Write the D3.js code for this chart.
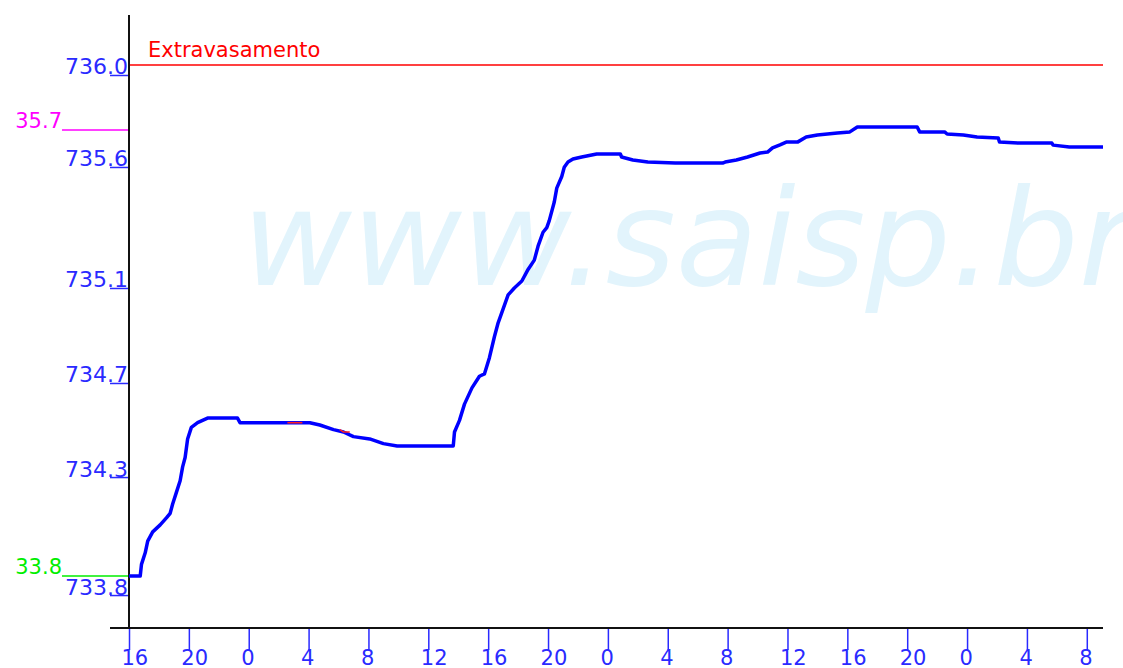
<!DOCTYPE html>
<html>
<head>
<meta charset="utf-8">
<script src="https://cdn.jsdelivr.net/npm/d3@7"></script>
<style>
  body { margin: 0; background: #fff; }
  text { font-family: "DejaVu Sans", sans-serif; }
</style>
</head>
<body>
<script>
// leituras do nível (m) - horário UTC
const horarios = [
  "2015-02-10 16:00", "2015-02-10 16:45", "2015-02-10 16:50", "2015-02-10 17:05",
  "2015-02-10 17:15", "2015-02-10 17:35", "2015-02-10 18:05", "2015-02-10 18:30",
  "2015-02-10 18:45", "2015-02-10 18:55", "2015-02-10 19:10", "2015-02-10 19:25",
  "2015-02-10 19:35", "2015-02-10 19:45", "2015-02-10 19:55", "2015-02-10 20:10",
  "2015-02-10 20:35", "2015-02-10 20:55", "2015-02-10 21:15", "2015-02-10 23:15",
  "2015-02-10 23:25", "2015-02-11 04:05", "2015-02-11 04:45", "2015-02-11 05:40",
  "2015-02-11 06:20", "2015-02-11 07:00", "2015-02-11 08:05", "2015-02-11 09:00",
  "2015-02-11 09:55", "2015-02-11 13:40", "2015-02-11 13:45", "2015-02-11 14:05",
  "2015-02-11 14:25", "2015-02-11 14:55", "2015-02-11 15:25", "2015-02-11 15:45",
  "2015-02-11 16:05", "2015-02-11 16:25", "2015-02-11 16:40", "2015-02-11 17:00",
  "2015-02-11 17:20", "2015-02-11 17:45", "2015-02-11 18:15", "2015-02-11 18:40",
  "2015-02-11 19:05", "2015-02-11 19:20", "2015-02-11 19:40", "2015-02-11 19:55",
  "2015-02-11 20:05", "2015-02-11 20:25", "2015-02-11 20:35", "2015-02-11 20:55",
  "2015-02-11 21:05", "2015-02-11 21:20", "2015-02-11 21:40", "2015-02-11 22:15",
  "2015-02-11 23:15", "2015-02-12 00:50", "2015-02-12 00:55", "2015-02-12 01:40",
  "2015-02-12 02:40", "2015-02-12 04:30", "2015-02-12 07:40", "2015-02-12 07:50",
  "2015-02-12 08:35", "2015-02-12 09:20", "2015-02-12 10:10", "2015-02-12 10:40",
  "2015-02-12 11:00", "2015-02-12 11:30", "2015-02-12 11:55", "2015-02-12 12:40",
  "2015-02-12 13:15", "2015-02-12 14:00", "2015-02-12 15:20", "2015-02-12 16:10",
  "2015-02-12 16:40", "2015-02-12 20:40", "2015-02-12 20:50", "2015-02-12 22:30",
  "2015-02-12 22:40", "2015-02-12 23:45", "2015-02-13 00:40", "2015-02-13 02:05",
  "2015-02-13 02:10", "2015-02-13 03:30", "2015-02-13 05:40", "2015-02-13 05:45",
  "2015-02-13 06:50", "2015-02-13 09:05"
];
const niveis = [
  733.80, 733.80, 733.85, 733.90,
  733.95, 733.99, 734.02, 734.05,
  734.07, 734.11, 734.16, 734.21,
  734.27, 734.31, 734.39, 734.44,
  734.46, 734.47, 734.48, 734.48,
  734.46, 734.46, 734.45, 734.43,
  734.42, 734.40, 734.39, 734.37,
  734.36, 734.36, 734.42, 734.47,
  734.54, 734.61, 734.66, 734.67,
  734.74, 734.83, 734.89, 734.95,
  735.01, 735.04, 735.07, 735.12,
  735.16, 735.22, 735.28, 735.30,
  735.33, 735.41, 735.47, 735.52,
  735.56, 735.582, 735.595, 735.604,
  735.617, 735.617, 735.604, 735.591,
  735.582, 735.578, 735.578, 735.582,
  735.591, 735.604, 735.621, 735.625,
  735.643, 735.656, 735.668, 735.668,
  735.690, 735.699, 735.707, 735.712,
  735.733, 735.733, 735.712, 735.712,
  735.703, 735.699, 735.690, 735.686,
  735.668, 735.664, 735.664, 735.655,
  735.647, 735.647
];

// trechos marcados em vermelho
const trechosVermelhos = [
  ["2015-02-11 02:35", "2015-02-11 03:35"],
  ["2015-02-11 06:05", "2015-02-11 06:45"]
];

// cotas de referência
const cotasRef = [736.0, 735.72, 733.8];
const cotasRotulos = ["Extravasamento", "35.7", "33.8"];
const cotasCores = ["#ff0000", "#ff00ff", "#00ee00"];

// marcas do eixo y
const yTickValores = [733.718, 734.226, 734.631, 735.040, 735.561, 735.957];
const yTickRotulos = ["733.8", "734.3", "734.7", "735.1", "735.6", "736.0"];

const inicio = "2015-02-10 16:00",
      fim = "2015-02-13 09:05";

const parse = d3.utcParse("%Y-%m-%d %H:%M");
const dados = horarios.map((h, i) => ({t: parse(h), v: niveis[i]}));

const width = 1123, height = 668;
const azulTexto = "#2a2aff";

const svg = d3.select("body").append("svg")
  .attr("width", width)
  .attr("height", height);

const x = d3.scaleUtc()
  .domain([parse(inicio), parse(fim)])
  .range([129, 1103]);

const y = d3.scaleLinear()
  .domain([733.8, 736.0])
  .range([576, 65]);

// marca d'agua
svg.append("text")
  .text("www.saisp.br")
  .attr("x", 242)
  .attr("y", 285)
  .attr("font-size", 134)
  .attr("font-style", "italic")
  .attr("textLength", 892)
  .attr("lengthAdjust", "spacingAndGlyphs")
  .attr("fill", "#e2f4fc");

// linha de extravasamento (dentro do gráfico)
svg.append("line")
  .attr("x1", 129).attr("x2", 1103)
  .attr("y1", y(cotasRef[0])).attr("y2", y(cotasRef[0]))
  .attr("stroke", cotasCores[0])
  .attr("stroke-width", 1.5);

svg.append("text")
  .text(cotasRotulos[0])
  .attr("x", 148)
  .attr("y", 57)
  .attr("font-size", 21)
  .attr("fill", cotasCores[0]);

// cotas de alerta (fora do gráfico, à esquerda)
[1, 2].forEach(i => {
  svg.append("line")
    .attr("x1", 62).attr("x2", 129)
    .attr("y1", y(cotasRef[i])).attr("y2", y(cotasRef[i]))
    .attr("stroke", cotasCores[i])
    .attr("stroke-width", 1.5);
  svg.append("text")
    .text(cotasRotulos[i])
    .attr("x", 62)
    .attr("y", y(cotasRef[i]) - 2)
    .attr("text-anchor", "end")
    .attr("font-size", 21)
    .attr("fill", cotasCores[i]);
});

// eixo y
const gy = svg.append("g")
  .attr("transform", "translate(129,0)")
  .call(d3.axisLeft(y)
    .tickValues(yTickValores)
    .tickFormat((d, i) => yTickRotulos[i])
    .tickSize(19)
    .tickSizeOuter(0));
gy.select(".domain").remove();
gy.selectAll(".tick line").attr("stroke", azulTexto).attr("stroke-width", 1.5);
gy.selectAll(".tick text")
  .attr("x", -1)
  .attr("y", -1)
  .attr("dy", 0)
  .attr("font-size", 22)
  .attr("font-family", "DejaVu Sans")
  .attr("fill", azulTexto);

// eixo x
const gx = svg.append("g")
  .attr("transform", "translate(0,628)")
  .call(d3.axisBottom(x)
    .ticks(d3.utcHour.every(4))
    .tickFormat(d3.utcFormat("%-H"))
    .tickSize(22)
    .tickSizeOuter(0));
gx.select(".domain").remove();
gx.selectAll(".tick line").attr("stroke", azulTexto).attr("stroke-width", 1.5);
gx.selectAll(".tick text")
  .attr("text-anchor", "start")
  .attr("x", -8)
  .attr("y", 37)
  .attr("dy", 0)
  .attr("font-size", 21)
  .attr("font-family", "DejaVu Sans")
  .attr("fill", azulTexto);

// linhas dos eixos
svg.append("line")
  .attr("x1", 129).attr("x2", 129)
  .attr("y1", 15).attr("y2", 628)
  .attr("stroke", "#111").attr("stroke-width", 2);
svg.append("line")
  .attr("x1", 110).attr("x2", 1103)
  .attr("y1", 628).attr("y2", 628)
  .attr("stroke", "#111").attr("stroke-width", 2);

// série do nível
const linha = d3.line()
  .x(d => x(d.t))
  .y(d => y(d.v));

svg.append("path")
  .datum(dados)
  .attr("d", linha)
  .attr("fill", "none")
  .attr("stroke", "#0000ff")
  .attr("stroke-width", 3.5)
  .attr("stroke-linejoin", "round");

// trechos vermelhos sobre a linha
trechosVermelhos.forEach(([a, b]) => {
  const ta = parse(a), tb = parse(b);
  const pts = dados.filter(d => d.t >= ta && d.t <= tb);
  const vA = dados.filter(d => d.t <= ta).pop().v;
  const vB = dados.filter(d => d.t <= tb).pop().v;
  svg.append("path")
    .datum([{t: ta, v: vA}, ...pts, {t: tb, v: vB}])
    .attr("d", linha)
    .attr("fill", "none")
    .attr("stroke", "#ff2020")
    .attr("stroke-width", 1.6);
});
</script>
</body>
</html>
